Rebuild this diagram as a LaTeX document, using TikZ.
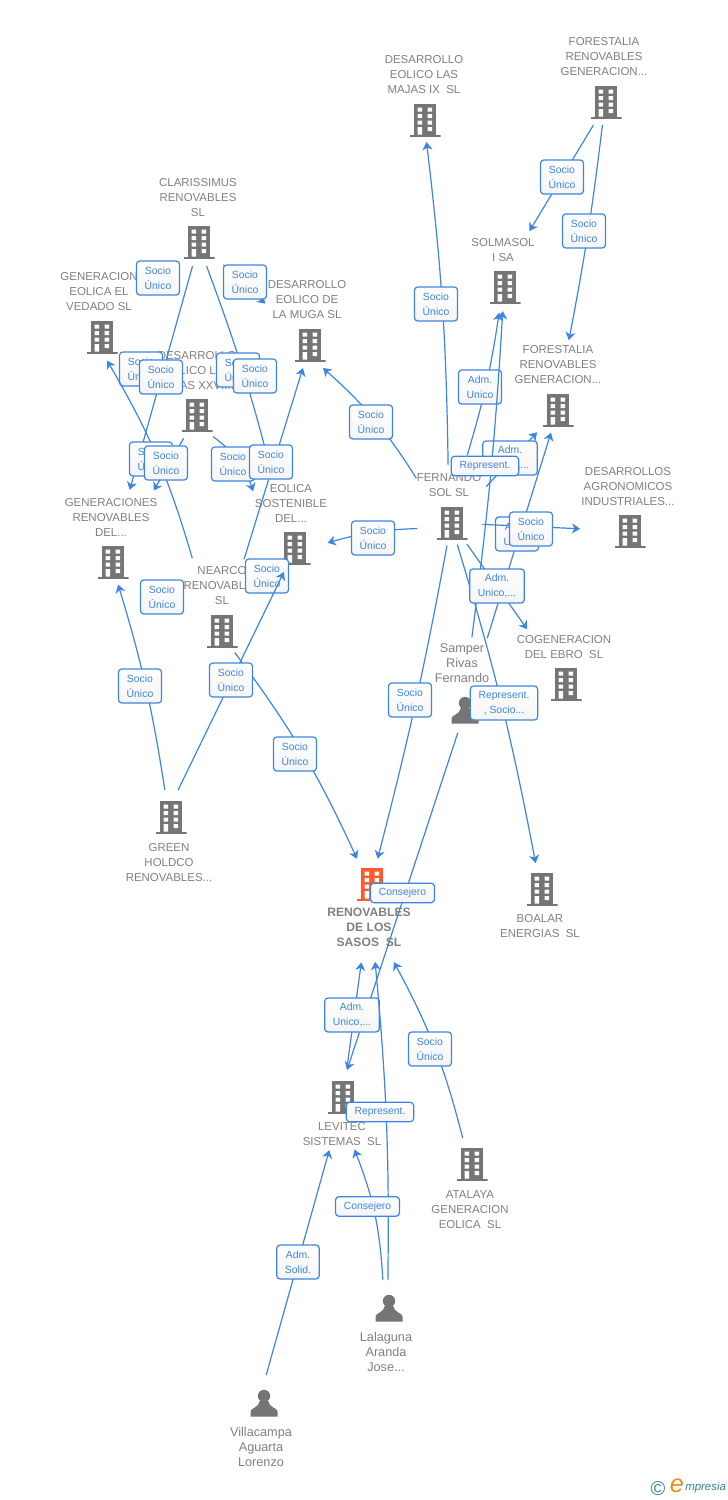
\documentclass[tikz,border=0pt]{standalone}
\usepackage{fontspec}
\setmainfont{Liberation Sans}
\usepackage{tikz}
\usetikzlibrary{arrows.meta, positioning, calc}
\definecolor{linkblue}{HTML}{3D85E0}
\definecolor{nametext}{HTML}{808080}
\definecolor{icongray}{HTML}{757575}
\definecolor{mainorange}{HTML}{FF5A2A}
\definecolor{logoteal}{HTML}{3A7F9E}
\definecolor{logoorange}{HTML}{F08A1E}
\tikzset{
  buildingicon/.style={rectangle, minimum width=23.25pt, minimum height=24.75pt, inner sep=0pt, outer sep=0pt,
    path picture={
      \begin{scope}[shift={(path picture bounding box.center)}]
      \fill[#1] (-10.8,-16.5) rectangle (10.8,15);
      \fill[#1] (-15.5,14.5) rectangle (15.5,16.5);
      \fill[white] (-7.5,-12.5) rectangle (-3,-8.5) (2.5,-12.5) rectangle (7,-8.5);
      \fill[white] (-7.5,-6) rectangle (-3,-2) (2.5,-6) rectangle (7,-2);
      \fill[white] (-7.5,0.5) rectangle (-3,4.5) (2.5,0.5) rectangle (7,4.5);
      \fill[white] (-7.5,7) rectangle (-3,14.5) (2.5,7) rectangle (7,11);
      \end{scope}}},
  personicon/.style={rectangle, minimum width=20.25pt, minimum height=20.25pt, inner sep=0pt, outer sep=0pt,
    path picture={
      \begin{scope}[shift={(path picture bounding box.center)}]
      \fill[icongray] (0,-7) circle (6.2);
      \fill[icongray] (-13.5,13.5) -- (-13.5,8.5) .. controls (-13.5,5) and (-5,4.5) .. (-4.2,-2) -- (4.2,-2) .. controls (5,4.5) and (13.5,5) .. (13.5,8.5) -- (13.5,13.5) -- cycle;
      \end{scope}}},
  nodename/.style={align=center, text=nametext, inner sep=0pt, yshift=-0.75pt, font=\fontsize{8.6}{11.25}\selectfont},
  personname/.style={nodename, font=\fontsize{9.5}{11.25}\selectfont},
  mainname/.style={align=center, text=nametext, inner sep=0pt, font=\fontsize{9.1}{11.25}\selectfont\bfseries},
  linkline/.style={draw=linkblue, line width=0.9pt, -{Stealth[length=6pt,width=7.5pt,inset=1.8pt]}},
  linkbase/.style={rectangle, rounded corners=2.5pt, draw=linkblue, line width=0.9pt, top color=white, bottom color=black!4,
      text=linkblue, align=center, inner xsep=6.2pt, inner ysep=0pt, font=\fontsize{7.8}{11.25}\selectfont},
  linklabel/.style={linkbase, minimum height=25.5pt},
  linkshort/.style={linkbase, minimum height=14.6pt},
}
\begin{document}
\begin{tikzpicture}[x=0.75pt, y=-0.75pt]
\useasboundingbox (0,0) rectangle (728,1500);

\node[nodename] (majasixtext) at (424,74) {DESARROLLO\\EOLICO LAS\\MAJAS IX\ \ SL};
\node[buildingicon=icongray] (majasix) at (425,120) {};
\node[nodename] (forestaliaonetext) at (604,56) {FORESTALIA\\RENOVABLES\\GENERACION...};
\node[buildingicon=icongray] (forestaliaone) at (606,102) {};
\node[nodename] (solmasoltext) at (503,249) {SOLMASOL\\I SA};
\node[buildingicon=icongray] (solmasol) at (505,287) {};
\node[nodename] (forestaliatwotext) at (558,364) {FORESTALIA\\RENOVABLES\\GENERACION...};
\node[buildingicon=icongray] (forestaliatwo) at (558,410) {};
\node[nodename] (agronomicostext) at (628,486) {DESARROLLOS\\AGRONOMICOS\\INDUSTRIALES...};
\node[buildingicon=icongray] (agronomicos) at (630,531) {};
\node[nodename] (fernandotext) at (449,484) {FERNANDO\\SOL SL};
\node[buildingicon=icongray] (fernando) at (452,523) {};
\node[nodename] (cogeneraciontext) at (564,646) {COGENERACION\\DEL EBRO\ \ SL};
\node[buildingicon=icongray] (cogeneracion) at (566,684) {};
\node[personname] (sampertext) at (462,662) {Samper\\Rivas\\Fernando};
\node[personicon] (samper) at (465,710) {};
\node[nodename] (boalartext) at (540,925) {BOALAR\\ENERGIAS\ \ SL};
\node[buildingicon=icongray] (boalar) at (542,889) {};
\node[mainname] (sasostext) at (369,927) {RENOVABLES\\DE LOS\\SASOS\ \ SL};
\node[buildingicon=mainorange] (sasos) at (372,884) {};
\node[nodename] (levitectext) at (342,1133) {LEVITEC\\SISTEMAS\ \ SL};
\node[buildingicon=icongray] (levitec) at (343,1097) {};
\node[nodename] (atalayatext) at (470,1209) {ATALAYA\\GENERACION\\EOLICA\ \ SL};
\node[buildingicon=icongray] (atalaya) at (472,1164) {};
\node[personname] (lalagunatext) at (386,1351) {Lalaguna\\Aranda\\Jose...};
\node[personicon] (lalaguna) at (389,1308) {};
\node[personname] (villacampatext) at (261,1446) {Villacampa\\Aguarta\\Lorenzo};
\node[personicon] (villacampa) at (264,1403) {};
\node[nodename] (holdcotext) at (169,862) {GREEN\\HOLDCO\\RENOVABLES...};
\node[buildingicon=icongray] (holdco) at (171,817) {};
\node[nodename] (generacionestext) at (111,516) {GENERACIONES\\RENOVABLES\\DEL...};
\node[buildingicon=icongray] (generaciones) at (113,562) {};
\node[nodename] (nearcotext) at (222,585) {NEARCO\\RENOVABLES\\SL};
\node[buildingicon=icongray] (nearco) at (222,631) {};
\node[nodename] (sosteniblietext) at (291,502) {EOLICA\\SOSTENIBLE\\DEL...};
\node[buildingicon=icongray] (sostenible) at (295,548) {};
\node[nodename] (mugatext) at (307,299) {DESARROLLO\\EOLICO DE\\LA MUGA SL};
\node[buildingicon=icongray] (muga) at (310,345) {};
\node[nodename] (vedadotext) at (99,291) {GENERACION\\EOLICA EL\\VEDADO SL};
\node[buildingicon=icongray] (vedado) at (102,337) {};
\node[nodename] (clarissimustext) at (198,197) {CLARISSIMUS\\RENOVABLES\\SL};
\node[buildingicon=icongray] (clarissimus) at (199,242) {};
\node[nodename] (majasxxvtext) at (197,370) {DESARROLLO\\EOLICO LAS\\MAJAS XXVII...};
\node[buildingicon=icongray] (majasxxv) at (197,415) {};

\node[linklabel] (socioa) at (158,278) {Socio\\Único};
\node[linklabel] (sociob) at (141,369) {Socio\\Único};
\draw[linkline] ($(clarissimus.center)!18.8pt!(generaciones.center)$) -- ($(generaciones.center)!55.5pt!2:(clarissimus.center)$);
\node[linklabel] (socioc) at (161,377) {Socio\\Único};
\draw[linkline] ($(clarissimus.center)!25pt!(muga.center)$) -- ($(muga.center)!45.6pt!(clarissimus.center)$);
\node[linklabel] (sociod) at (245,282) {Socio\\Único};
\draw[linkline] ($(clarissimus.center)!19pt!(sostenible.center)$) to[bend left=3] ($(sostenible.center)!58.3pt!(clarissimus.center)$);
\node[linklabel] (socioe) at (238,370) {Socio\\Único};
\node[linklabel] (sociof) at (255,376) {Socio\\Único};
\draw[linkline] ($(nearco.center)!58.9pt!(vedado.center)$) to[bend right=7] ($(vedado.center)!18.2pt!-10:(nearco.center)$);
\node[linklabel] (sociog) at (151,459) {Socio\\Único};
\draw[linkline] ($(majasxxv.center)!20.2pt!(generaciones.center)$) -- ($(generaciones.center)!61.7pt!(majasxxv.center)$);
\node[linklabel] (socioh) at (166,463) {Socio\\Único};
\draw[linkline] ($(majasxxv.center)!20.2pt!(sostenible.center)$) to[bend left=18] ($(sostenible.center)!52.9pt!(majasxxv.center)$);
\node[linklabel] (socioi) at (233,464) {Socio\\Único};
\draw[linkline] ($(nearco.center)!56.4pt!(muga.center)$) -- ($(muga.center)!18pt!(nearco.center)$);
\node[linklabel] (socioj) at (271,462) {Socio\\Único};
\node[linklabel] (sociok) at (162,597) {Socio\\Único};
\node[linklabel] (sociol) at (267,576) {Socio\\Único};
\draw[linkline] ($(nearco.center)!18.8pt!(sasos.center)$) to[bend left=6] ($(sasos.center)!22pt!(nearco.center)$);
\node[linklabel] (sociom) at (295,754) {Socio\\Único};
\draw[linkline] ($(holdco.center)!20.9pt!10:(sostenible.center)$) -- ($(sostenible.center)!19.8pt!(holdco.center)$);
\node[linklabel] (socion) at (231,680) {Socio\\Único};
\draw[linkline] ($(holdco.center)!20.9pt!(generaciones.center)$) to[bend right=4] ($(generaciones.center)!17.4pt!(holdco.center)$);
\node[linklabel] (socioo) at (140,686) {Socio\\Único};

\draw[linkline] ($(forestaliaone.center)!19.8pt!(solmasol.center)$) -- ($(solmasol.center)!45.8pt!5:(forestaliaone.center)$);
\node[linklabel] (sociop) at (562,177) {Socio\\Único};
\draw[linkline] ($(forestaliaone.center)!17.5pt!(forestaliatwo.center)$) to[bend left=2] ($(forestaliatwo.center)!53pt!(forestaliaone.center)$);
\node[linklabel] (socioq) at (584,231) {Socio\\Único};
\draw[linkline] ($(fernando.center)!43.7pt!(majasix.center)$) to[bend right=3] ($(majasix.center)!16.5pt!(fernando.center)$);
\node[linklabel] (socior) at (436,304) {Socio\\Único};
\draw[linkline] ($(fernando.center)!42.8pt!(muga.center)$) to[bend right=8] ($(muga.center)!19.8pt!-9:(fernando.center)$);
\node[linklabel] (socios) at (371,422) {Socio\\Único};
\draw[linkline] ($(fernando.center)!26.3pt!(sostenible.center)$) to[bend right=7] ($(sostenible.center)!24.8pt!(fernando.center)$);
\node[linklabel] (sociot) at (373,538) {Socio\\Único};
\draw[linkline] ($(fernando.center)!52pt!(solmasol.center)$) to[bend right=4] ($(solmasol.center)!19.7pt!(fernando.center)$);
\node[linklabel] (admuno) at (480,387) {Adm.\\Unico};
\draw[linkline] ($(fernando.center)!37.5pt!(forestaliatwo.center)$) -- ($(forestaliatwo.center)!22.9pt!(fernando.center)$);
\node[linklabel] (admdos) at (510,458) {Adm.\\Unico,...};
\draw[linkline] ($(samper.center)!54.8pt!(solmasol.center)$) to[bend right=2] ($(solmasol.center)!18.2pt!(samper.center)$);
\node[linkshort] (representuno) at (485,466) {Represent.};
\draw[linkline] ($(samper.center)!56.4pt!(forestaliatwo.center)$) -- ($(forestaliatwo.center)!17.8pt!(samper.center)$);
\node[linklabel] (admtres) at (517,534) {Adm.\\Unico};
\draw[linkline] ($(fernando.center)!22.8pt!(agronomicos.center)$) -- ($(agronomicos.center)!37.5pt!(fernando.center)$);
\node[linklabel] (sociou) at (531,529) {Socio\\Único};
\draw[linkline] ($(fernando.center)!16.7pt!(boalar.center)$) to[bend left=3] ($(boalar.center)!20pt!(fernando.center)$);
\node[linklabel] (representdos) at (504,703) {Represent.\\, Socio...};
\draw[linkline] ($(fernando.center)!19.5pt!(cogeneracion.center)$) -- ($(cogeneracion.center)!50.3pt!(fernando.center)$);
\node[linklabel] (admcuatro) at (497,586) {Adm.\\Unico,...};
\draw[linkline] ($(fernando.center)!17.3pt!(sasos.center)$) to[bend left=2] ($(sasos.center)!19.5pt!(fernando.center)$);
\node[linklabel] (sociov) at (410,700) {Socio\\Único};

\draw[linkline] ($(samper.center)!17.8pt!(levitec.center)$) -- ($(levitec.center)!20.5pt!9:(samper.center)$);
\node[linkshort] (consejerouno) at (402.5,893) {Consejero};
\draw[linkline] ($(levitec.center)!21.8pt!(sasos.center)$) -- ($(sasos.center)!59.3pt!(levitec.center)$);
\node[linklabel] (admcinco) at (352,1015) {Adm.\\Unico,...};
\draw[linkline] ($(lalaguna.center)!21pt!(sasos.center)$) to[bend right=3] ($(sasos.center)!58.5pt!(lalaguna.center)$);
\node[linkshort] (representres) at (380,1112) {Represent.};
\draw[linkline] ($(lalaguna.center)!21.8pt!(levitec.center)$) to[bend right=9] ($(levitec.center)!40.3pt!(lalaguna.center)$);
\node[linkshort] (consejerodos) at (367.5,1206.5) {Consejero};
\draw[linkline] ($(atalaya.center)!20.6pt!(sasos.center)$) to[bend right=7] ($(sasos.center)!60.8pt!-4:(atalaya.center)$);
\node[linklabel] (sociow) at (430,1049) {Socio\\Único};
\draw[linkline] ($(villacampa.center)!21pt!10:(levitec.center)$) -- ($(levitec.center)!41.1pt!(villacampa.center)$);
\node[linklabel] (admseis) at (298,1262) {Adm.\\Solid.};

\node[text=logoteal, inner sep=0pt, font=\fontsize{15}{15}\selectfont] (logomark) at (658,1489) {©};
\node[text=logoorange, inner sep=0pt, font=\fontsize{19}{19}\selectfont\itshape] (logoe) at (677,1486) {e};
\node[text=logoteal, inner sep=0pt, font=\fontsize{8.6}{8.6}\selectfont\itshape, right=0.5pt of logoe.south east, anchor=south west] (logotext) {mpresia};
\end{tikzpicture}
\end{document}
